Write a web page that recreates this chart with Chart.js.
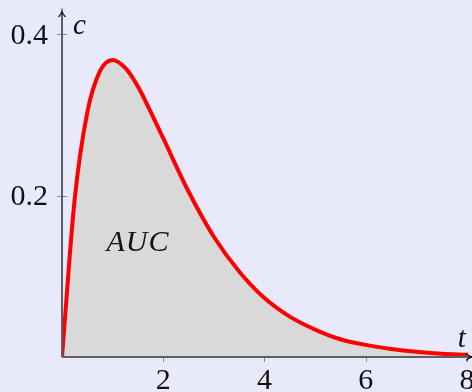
<!DOCTYPE html>
<html>
<head>
<meta charset="utf-8">
<script src="https://cdn.jsdelivr.net/npm/chart.js@4.4.1/dist/chart.umd.min.js"></script>
<style>
  html, body { margin: 0; padding: 0; background: #e9e9fc; }
  #cc { display: block; }
</style>
</head>
<body>
<canvas id="cc" width="472" height="392"></canvas>
<script>
// concentration curve, sampled along t
var tValues = [0, 0.25, 0.5, 0.75, 1, 1.25, 1.5, 1.75, 2, 2.5, 3, 3.5, 4, 4.5, 5, 5.5, 6, 6.5, 7, 7.5, 8];
var cValues = [0, 0.195, 0.303, 0.354, 0.368, 0.358, 0.335, 0.304, 0.271, 0.205, 0.149, 0.106, 0.073, 0.050, 0.034, 0.022, 0.015, 0.010, 0.0064, 0.0041, 0.0027];

var xTicks = [2, 4, 6, 8];
var yTicks = [0.2, 0.4];
var yTickLabels = ["0.2", "0.4"];

var serif = "'Liberation Serif', 'DejaVu Serif', serif";

var points = tValues.map(function (t, i) { return { x: t, y: cValues[i] }; });

// axes, arrows, ticks and labels
var axesPlugin = {
  id: "axes",
  beforeDatasetsDraw: function (chart) {
    var c = chart.ctx, xs = chart.scales.x, ys = chart.scales.y;
    var x0 = xs.getPixelForValue(0), y0 = ys.getPixelForValue(0);
    c.save();
    c.strokeStyle = "#8a8a8a";
    c.lineWidth = 1;
    xTicks.forEach(function (v) {
      var px = Math.round(xs.getPixelForValue(v)) + 0.5;
      c.beginPath(); c.moveTo(px, y0 - 5); c.lineTo(px, y0 + 5); c.stroke();
    });
    yTicks.forEach(function (v) {
      var py = Math.round(ys.getPixelForValue(v)) + 0.5;
      c.beginPath(); c.moveTo(x0 - 5, py); c.lineTo(x0 + 5, py); c.stroke();
    });
    c.restore();
  },
  afterDatasetsDraw: function (chart) {
    var c = chart.ctx, xs = chart.scales.x, ys = chart.scales.y;
    var x0 = xs.getPixelForValue(0), y0 = ys.getPixelForValue(0);
    var area = chart.chartArea;
    c.save();
    // axis lines
    c.strokeStyle = "#5e5e66";
    c.lineWidth = 2;
    c.beginPath();
    c.moveTo(x0, y0); c.lineTo(x0, area.top + 1);
    c.moveTo(x0, y0); c.lineTo(area.right - 1, y0);
    c.stroke();
    // arrow heads
    c.strokeStyle = "#111";
    c.lineWidth = 1.3;
    c.beginPath();
    c.moveTo(x0 - 3.5, area.top + 6); c.quadraticCurveTo(x0 - 0.5, area.top + 3, x0, area.top);
    c.quadraticCurveTo(x0 + 0.5, area.top + 3, x0 + 3.5, area.top + 6);
    c.moveTo(area.right - 6, y0 - 3.5); c.quadraticCurveTo(area.right - 3, y0 - 0.5, area.right, y0);
    c.quadraticCurveTo(area.right - 3, y0 + 0.5, area.right - 6, y0 + 3.5);
    c.stroke();

    // tick labels
    c.fillStyle = "#111";
    c.font = "30px " + serif;
    c.textAlign = "center";
    c.textBaseline = "top";
    xTicks.forEach(function (v) {
      c.fillText(String(v), xs.getPixelForValue(v), y0 + 9);
    });
    c.textAlign = "right";
    c.textBaseline = "middle";
    yTicks.forEach(function (v, i) {
      c.fillText(yTickLabels[i], x0 - 14, ys.getPixelForValue(v) + 2);
    });

    // axis names and area label
    c.font = "italic 29px " + serif;
    c.textAlign = "left";
    c.textBaseline = "alphabetic";
    c.fillText("c", x0 + 11, ys.getPixelForValue(0.4) + 0);
    c.fillText("t", xs.getPixelForValue(7.82), y0 - 10);
    c.font = "italic 30px " + serif;
    c.textAlign = "center";
    c.letterSpacing = "1px";
    c.fillText("AUC", xs.getPixelForValue(1.5), ys.getPixelForValue(0.131));
    c.restore();
  }
};

new Chart(document.getElementById("cc"), {
  type: "line",
  data: {
    datasets: [{
      data: points,
      borderColor: "#ff0000",
      borderWidth: 4,
      backgroundColor: "#d9d9d9",
      fill: "origin",
      pointRadius: 0,
      cubicInterpolationMode: "monotone"
    }]
  },
  options: {
    responsive: false,
    devicePixelRatio: 1,
    animation: false,
    layout: { padding: { left: 62, right: 0, top: 11, bottom: 35 } },
    plugins: { legend: { display: false }, tooltip: { enabled: false } },
    scales: {
      x: { type: "linear", min: 0, max: 8.1, display: false },
      y: { type: "linear", min: 0, max: 0.4286, display: false }
    }
  },
  plugins: [axesPlugin]
});
</script>
</body>
</html>
